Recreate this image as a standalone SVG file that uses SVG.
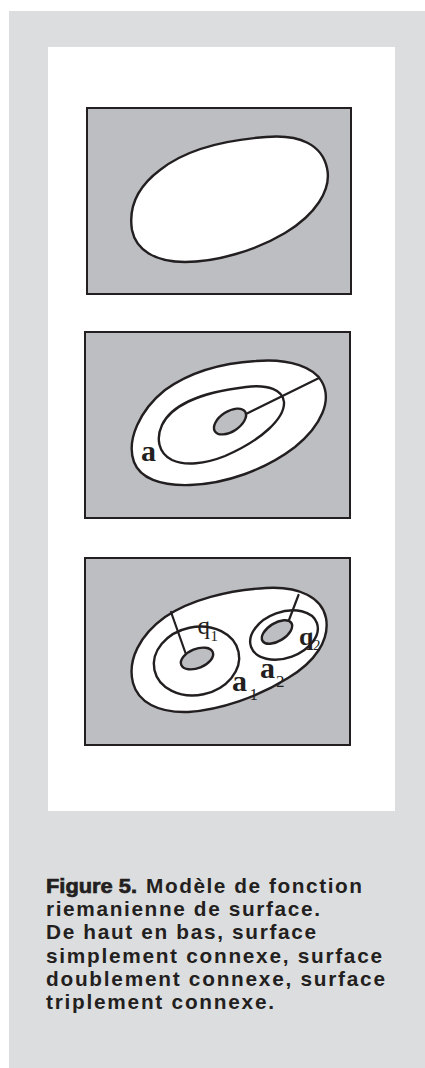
<svg xmlns="http://www.w3.org/2000/svg" width="425" height="1068" viewBox="0 0 425 1068">
<style>
.bg{fill:#dcdddf}
.panel{fill:#bcbec1;stroke:#231f20;stroke-width:2}
.surf{fill:#ffffff;stroke:#231f20;stroke-width:2.4;stroke-linejoin:round}
.ring{fill:none;stroke:#231f20;stroke-width:2.4}
.hole{fill:#bcbec1;stroke:#231f20;stroke-width:2.4}
.cut{stroke:#231f20;stroke-width:2.2;fill:none;stroke-linecap:round}
.lbl{font-family:"Liberation Serif","Times New Roman",serif;fill:#231f20}
.b{font-weight:bold}
.cap{font-family:"Liberation Sans",Arial,sans-serif;font-weight:bold;font-size:20.8px;fill:#231f20}
</style>
<rect class="bg" x="9" y="11" width="416" height="1057"/>
<rect x="48" y="47" width="347" height="764" fill="#ffffff"/>

<g id="panel1">
<rect class="panel" x="87" y="108" width="264" height="186"/>
<path class="surf" d="M 266,137 C 300,134 322,145 327,168 C 332,190 315,215 285,233 C 255,251 215,262 185,262 C 155,262 136,250 132,230 C 128,205 140,185 160,170 C 185,150 225,140 266,137 Z"/>
</g>

<g id="panel2">
<rect class="panel" x="85" y="332" width="265" height="186"/>
<path class="surf" d="M 256,361 C 290,358 315,368 322,382 C 332,400 322,425 295,447 C 265,470 225,484 190,485 C 160,486 140,478 134,462 C 126,440 140,410 165,390 C 190,372 222,363 256,361 Z"/>
<path class="ring" d="M 246,387 C 268,384 283,390 284,402 C 285,418 262,440 225,456 C 205,464 185,466 172,460 C 158,453 156,438 162,425 C 170,408 195,393 246,387 Z"/>
<ellipse class="hole" cx="230" cy="421.5" rx="18" ry="10" transform="rotate(-33 230 421.5)"/>
<text class="lbl b" x="141" y="461" font-size="30">a</text>
</g>

<g id="panel3">
<rect class="panel" x="85" y="558" width="265" height="187"/>
<path class="surf" d="M 266,588 C 300,586 322,598 326,618 C 330,640 315,662 288,678 C 258,697 220,710 188,712 C 158,713 138,702 133,683 C 127,660 140,635 165,617 C 190,600 228,590 266,588 Z"/>
<ellipse class="ring" cx="196.5" cy="661" rx="43" ry="34" transform="rotate(-12 196.5 661)"/>
<ellipse class="hole" cx="197" cy="658.5" rx="17" ry="9.5" transform="rotate(-22 197 658.5)"/>
<ellipse class="ring" cx="284" cy="635" rx="35" ry="23" transform="rotate(-20 284 635)"/>
<ellipse class="hole" cx="277" cy="632" rx="17" ry="9" transform="rotate(-32 277 632)"/>
<text class="lbl" x="197.5" y="634" font-size="25">q</text>
<text class="lbl" x="210.5" y="641" font-size="15">1</text>
<text class="lbl b" x="299" y="645" font-size="26">q</text>
<text class="lbl" x="313" y="650" font-size="15">2</text>
<text class="lbl b" x="232" y="691" font-size="30">a</text>
<text class="lbl" x="249.5" y="700" font-size="17">1</text>
<text class="lbl b" x="260" y="678" font-size="30">a</text>
<text class="lbl" x="276" y="687" font-size="17">2</text>
</g>

<g id="connectors">
<line class="cut" x1="246" y1="414" x2="319" y2="378"/>
<line class="cut" x1="171" y1="612" x2="185.5" y2="653"/>
<line class="cut" x1="298.5" y1="595" x2="289" y2="620"/>
</g>

<g id="caption">
<text class="cap" x="46" y="893" font-size="22.5" textLength="91" lengthAdjust="spacingAndGlyphs" stroke="#231f20" stroke-width="0.7">Figure 5.</text>
<text class="cap" x="146" y="893" textLength="216" lengthAdjust="spacing">Modèle de fonction</text>
<text class="cap" x="46" y="916.2" textLength="274" lengthAdjust="spacing">riemanienne de surface.</text>
<text class="cap" x="46" y="939.4" textLength="270" lengthAdjust="spacing">De haut en bas, surface</text>
<text class="cap" x="46" y="962.6" textLength="336" lengthAdjust="spacing">simplement connexe, surface</text>
<text class="cap" x="46" y="985.8" textLength="339" lengthAdjust="spacing">doublement connexe, surface</text>
<text class="cap" x="46" y="1009" textLength="228" lengthAdjust="spacing">triplement connexe.</text>
</g>
</svg>
